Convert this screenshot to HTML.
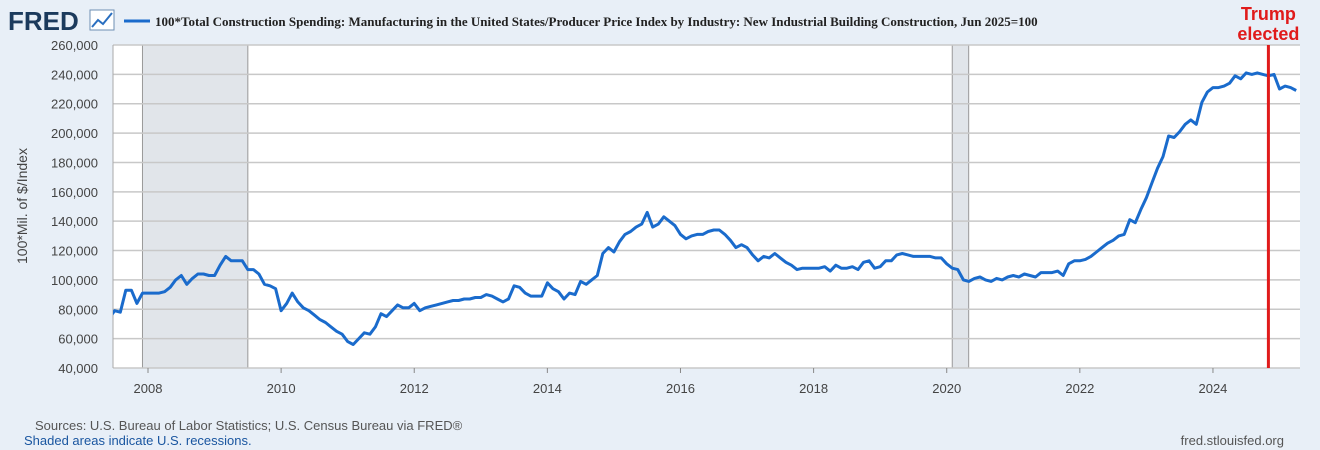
<!DOCTYPE html>
<html><head><meta charset="utf-8">
<style>
body{margin:0;width:1320px;height:450px;background:#e8eff7;font-family:"Liberation Sans",sans-serif;overflow:hidden}
svg{display:block}
</style></head><body>
<svg id="chart" width="1320" height="450">
<rect x="0" y="0" width="1320" height="450" fill="#e8eff7"/>
<g>
<text x="8" y="30" font-size="26" font-weight="bold" fill="#1b3a5c" font-family="Liberation Sans, sans-serif">FRED</text>
<rect x="90" y="10" width="24" height="20" fill="#fff" stroke="#6e8fb3" stroke-width="1"/>
<polyline points="92,27 98,20 103,24 112,13" fill="none" stroke="#2a6fc0" stroke-width="2"/>
</g>
<g>
<line x1="124" y1="21" x2="150" y2="21" stroke="#1a6bcc" stroke-width="3"/>
<text x="155" y="26" font-size="13" font-weight="bold" fill="#222" font-family="Liberation Serif, serif">100*Total Construction Spending: Manufacturing in the United States/Producer Price Index by Industry: New Industrial Building Construction, Jun 2025=100</text>
</g>
<rect x="113" y="45" width="1187" height="323" fill="#fff"/>
<g id="rec"></g>
<g id="grid"></g>
<g id="xt"></g>
<text transform="translate(27,206) rotate(-90)" text-anchor="middle" font-size="14" fill="#444">100*Mil. of $/Index</text>
<g id="series"></g>
<g id="ann"></g>
<text x="35" y="430" font-size="13" fill="#555">Sources: U.S. Bureau of Labor Statistics; U.S. Census Bureau via FRED®</text>
<text x="24" y="445" font-size="13" fill="#1a56a0">Shaded areas indicate U.S. recessions.</text>
<text x="1284" y="445" text-anchor="end" font-size="13" fill="#555">fred.stlouisfed.org</text>
</svg>
<script>
const startYear = 2007, startMonth = 6;
const values = [
74,79,78,93,93,84,91,
91,91,91,92,95,100,103,97,101,104,104,103,
103,110,116,113,113,113,107,107,104,97,96,94,
79,84,91,85,81,79,76,73,71,68,65,63,
58,56,60,64,63,68,77,75,79,83,81,81,
84,79,81,82,83,84,85,86,86,87,87,88,
88,90,89,87,85,87,96,95,91,89,89,89,
98,94,92,87,91,90,99,97,100,103,118,122,
119,126,131,133,136,138,146,136,138,143,140,137,
131,128,130,131,131,133,134,134,131,127,122,124,
122,117,113,116,115,118,115,112,110,107,108,108,
108,108,109,106,110,108,108,109,107,112,113,108,
109,113,113,117,118,117,116,116,116,116,115,115,
111,108,107,100,99,101,102,100,99,101,100,102,
103,102,104,103,102,105,105,105,106,103,111,113,
113,114,116,119,122,125,127,130,131,141,139,148,
156,166,176,184,198,197,201,206,209,206,221,228,
231,231,232,234,239,237,241,240,241,240,239,240,
230,232,231,229
];
const yTicks = [40000,60000,80000,100000,120000,140000,160000,180000,200000,220000,240000,260000];
const xTicks = [2008,2010,2012,2014,2016,2018,2020,2022,2024];
const recessions = [[2007.917,2009.5],[2020.083,2020.33]];
const eventDate = [2024.833];
const eventLabel = ["Trump","elected"];

const NS="http://www.w3.org/2000/svg";
const X0=113,X1=1300,YT=45,YB=368;
function xs(t){return 148+(t-2008)*66.56;}
function ys(v){return YB-(v-40000)/220000*(YB-YT);}
function mk(tag,attrs,parent){const e=document.createElementNS(NS,tag);for(const k in attrs)e.setAttribute(k,attrs[k]);document.getElementById(parent).appendChild(e);return e;}
function fmt(v){return v.toLocaleString('en-US');}

recessions.forEach(r=>{
 const a=Math.max(X0,xs(r[0])), b=xs(r[1]);
 const e=mk('rect',{x:a,y:YT,width:b-a,height:YB-YT,fill:'#e1e5ea'},'rec');
 
 
 [a,b].forEach(px=>{const l=mk('line',{x1:px,x2:px,y1:YT,y2:YB,stroke:'#999','stroke-width':1},'rec');
  
  });
});
yTicks.forEach(v=>{
 const y=ys(v);
 const l=mk('line',{x1:X0,x2:X1,y1:y,y2:y,stroke:'#c8c8c8','stroke-width':1.5},'grid');
 
 
 const t=mk('text',{x:98,y:y+5,'text-anchor':'end','font-size':13,fill:'#444'},'grid');
 t.textContent=fmt(v);
 
 
});
const bl=mk('line',{x1:X0,x2:X0,y1:YT,y2:YB,stroke:'#aaa','stroke-width':1},'grid');


xTicks.forEach(yr=>{
 const x=xs(yr);
 const tk=mk('line',{x1:x,x2:x,y1:YB,y2:YB+5,stroke:'#888'},'xt');
 
 
 const t=mk('text',{x:x,y:YB+25,'text-anchor':'middle','font-size':13,fill:'#444'},'xt');
 t.textContent=yr;
 
 
});
const cp=mk('clipPath',{id:'pc'},'series');
const cr=document.createElementNS(NS,'rect');cr.setAttribute('x',X0);cr.setAttribute('y',0);cr.setAttribute('width',X1-X0);cr.setAttribute('height',450);cp.appendChild(cr);
const pts=values.map((v,i)=>{const t=startYear+(startMonth-1+i)/12;return xs(t).toFixed(1)+','+ys(v*1000).toFixed(1);});
const pl=mk('polyline',{points:pts.join(' '),fill:'none',stroke:'#1a6bcc','stroke-width':3,'stroke-linejoin':'round','clip-path':'url(#pc)'},'series');


eventDate.forEach(d=>{
 const x=xs(d);
 const l=mk('line',{x1:x,x2:x,y1:YT,y2:YB,stroke:'#e01b1b','stroke-width':3},'ann');
 
 
 eventLabel.forEach((s,i)=>{
  const t=mk('text',{x:x,y:20+i*20,'text-anchor':'middle','font-size':18,'font-weight':'bold',fill:'#e01b1b'},'ann');
  t.textContent=s;
  
  
 });
});
</script>
</body></html>
